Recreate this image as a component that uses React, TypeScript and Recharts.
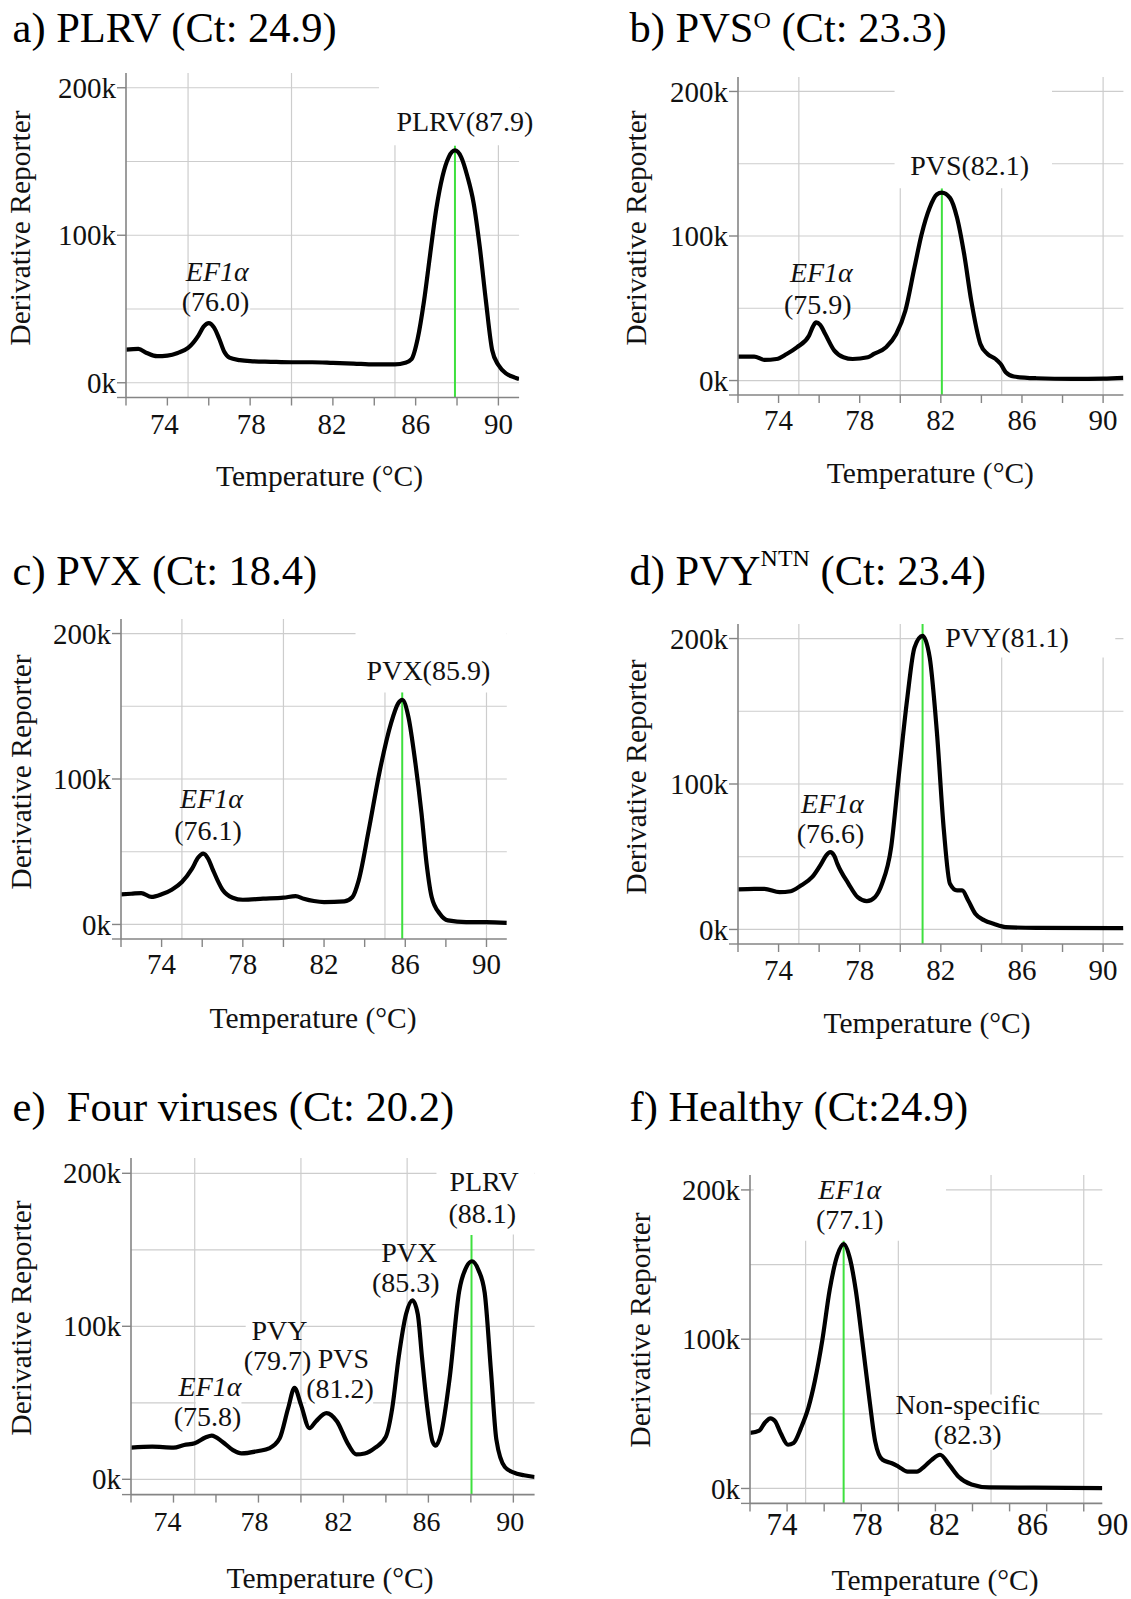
import React from 'react';
import {
  LineChart,
  Line,
  XAxis,
  YAxis,
  CartesianGrid,
  ReferenceLine,
  ReferenceArea,
  ReferenceDot,
} from 'recharts';

const FONT = '"Liberation Serif", "Times New Roman", serif';

// shared axis setup
const ticksX = [72, 74, 76, 78, 80, 82, 84, 86, 88, 90];
const labeledX = [74, 78, 82, 86, 90];
const ticksY = [-10000, 0, 100000, 200000];
const gridY = [0, 50000, 100000, 150000, 200000];
const gridX = [75, 80, 85, 90];

// melt curves, derivative reporter in thousands
const tempA = [72, 72.6, 73, 73.5, 74, 74.5, 75, 75.5, 75.75, 76, 76.25, 76.5, 76.75, 77, 77.5, 78, 79, 80, 81, 82, 83, 84, 85, 85.5, 85.8, 86.1, 86.4, 86.7, 87, 87.3, 87.6, 87.9, 88.2, 88.5, 88.8, 89.1, 89.4, 89.7, 90, 90.4, 90.8, 91];
const valA = [22.5, 22.9, 20.2, 18, 18.4, 20.2, 23.6, 32, 38, 40.4, 37.5, 30, 21, 17, 15.3, 14.6, 14.2, 13.9, 13.9, 13.5, 13, 12.4, 12.4, 13.5, 16, 30, 55, 87, 118, 140, 153, 157.5, 153, 140, 122, 92, 55, 22, 12, 6, 3.5, 2.5];

const tempB = [72, 72.8, 73.3, 73.9, 74.4, 74.9, 75.5, 75.7, 75.85, 76.05, 76.3, 76.75, 77.2, 77.65, 78.4, 78.7, 79.3, 79.8, 80.25, 80.7, 81.05, 81.45, 81.8, 82.05, 82.45, 82.8, 83.15, 83.5, 83.95, 84.3, 84.7, 84.95, 85.2, 85.6, 86.7, 88.5, 90, 91];
const valB = [16.6, 16.6, 14.3, 14.9, 18.4, 23, 31, 37.5, 40.2, 38.5, 32.2, 20.7, 16.1, 14.9, 16.1, 18.4, 23, 32.2, 48.3, 78.2, 101, 119.5, 128.7, 130, 126.4, 112.6, 87.4, 55.2, 25.3, 18.4, 14.9, 11.5, 5.7, 2.8, 1.6, 1.1, 1.3, 1.8];

const tempC = [72, 72.5, 73, 73.5, 74, 74.5, 75, 75.5, 75.8, 76.05, 76.3, 76.5, 77, 77.5, 78, 79, 80, 80.6, 81, 81.5, 82, 83, 83.4, 83.7, 84.2, 84.75, 85.3, 85.65, 85.85, 86.15, 86.5, 86.8, 87.05, 87.3, 87.7, 88.1, 89, 90, 91];
const valC = [20.7, 21.1, 21.6, 18.9, 20.7, 23.9, 29.2, 38.4, 46, 48.7, 45, 38.4, 23.9, 18.4, 17, 17.7, 18.4, 19.5, 17.7, 16.1, 15.4, 15.9, 18.9, 30, 64.8, 106, 138.4, 152, 154.5, 143, 110.8, 76.3, 41.8, 18.9, 7.4, 2.8, 1.6, 1.6, 1.1];

const tempD = [72, 72.8, 73.3, 74.05, 74.6, 75.1, 75.65, 76.1, 76.35, 76.55, 76.75, 76.9, 77.45, 77.9, 78.35, 78.75, 79.1, 79.55, 79.9, 80.35, 80.7, 81.1, 81.45, 81.8, 82.15, 82.45, 82.8, 83.05, 83.35, 83.7, 84.15, 84.6, 85.2, 86.7, 91];
const valD = [27.5, 27.9, 27.9, 25.6, 26.3, 30.2, 35.9, 45.1, 51, 53.1, 50.5, 45.1, 31.4, 22.2, 19.5, 22.2, 31.4, 56.5, 102.3, 159.5, 193.8, 201.8, 187, 136.6, 68, 31.4, 26.8, 26.8, 19.9, 10.8, 6.2, 3.9, 1.6, 1.1, 0.9];

const tempE = [72, 73, 74, 74.5, 75, 75.5, 75.8, 76.3, 76.8, 77.2, 78, 78.5, 79, 79.4, 79.7, 80, 80.4, 80.7, 81.2, 81.7, 82.2, 82.6, 83, 83.5, 84, 84.3, 84.6, 84.95, 85.25, 85.5, 85.7, 85.95, 86.2, 86.35, 86.6, 87, 87.45, 87.8, 88.05, 88.35, 88.65, 88.95, 89.2, 89.6, 90, 90.5, 91];
const valE = [20.7, 21.3, 20.7, 22.4, 23.5, 27.3, 28.6, 24.6, 19.1, 16.9, 18.5, 20.2, 26.8, 46.6, 59.8, 48.8, 33.4, 37.8, 43.3, 37.8, 23.5, 16.3, 16.9, 20.7, 27.9, 46.6, 79.6, 108, 117, 108, 79.6, 46.6, 24.6, 22, 30, 66, 123, 139, 142.5, 137, 122, 70, 26, 8, 4.5, 2.6, 1.5];

const tempF = [72, 72.5, 72.8, 73.1, 73.35, 73.65, 74.05, 74.35, 74.75, 75.15, 75.5, 75.9, 76.3, 76.7, 77.05, 77.4, 77.7, 78.05, 78.45, 78.75, 79.15, 79.65, 80, 80.5, 81, 81.4, 81.8, 82.25, 82.75, 83.25, 83.95, 84.9, 87.3, 91];
const valF = [37.2, 38.8, 44, 47, 45.1, 37.2, 29.3, 30.5, 40.6, 54.2, 72.2, 99.3, 133.2, 155.8, 163.7, 153.5, 133.2, 99.3, 58.7, 31.6, 19.2, 16.9, 14.7, 11.3, 11.3, 14.7, 19.2, 22.6, 15.8, 7.9, 2.7, 0.7, 0.5, 0.2];

interface Note {
  t: number;
  v: number;
  text: string;
  italic?: boolean;
}

interface PanelDef {
  temps: number[];
  values: number[];
  plot: { left: number; right: number; top: number; bottom: number };
  peak: number;
  peakTop: number;
  notes: Note[];
  masks: number[][];
  shifts: number[];
  tickFont: number;
  tickBase: number;
}

const panels: PanelDef[] = [
  {
    temps: tempA,
    values: valA,
    plot: { left: 125.6, right: 518.7, top: 73.25, bottom: 397.75 },
    peak: 87.9,
    peakTop: 160.7,
    notes: [
      { t: 76.41, v: 75.3, text: 'EF1α', italic: true },
      { t: 76.33, v: 54.9, text: '(76.0)' },
      { t: 88.38, v: 177, text: 'PLRV(87.9)' },
    ],
    masks: [[84.23, 91, 161, 210], [75.05, 78.0, 46, 82]],
    shifts: [-3, 1, -1, 0, 0],
    tickFont: 29,
    tickBase: 37,
  },
  {
    temps: tempB,
    values: valB,
    plot: { left: 738.3, right: 1123.7, top: 76.5, bottom: 394.5 },
    peak: 82.05,
    peakTop: 132.9,
    notes: [
      { t: 76.11, v: 74.8, text: 'EF1α', italic: true },
      { t: 75.93, v: 52.6, text: '(75.9)' },
      { t: 83.42, v: 148.8, text: 'PVS(82.1)' },
    ],
    masks: [[79.72, 87.48, 133, 210], [75.05, 77.55, 45, 82]],
    shifts: [0, 0, 0, 0, 0],
    tickFont: 29,
    tickBase: 35,
  },
  {
    temps: tempC,
    values: valC,
    plot: { left: 121, right: 506.8, top: 618.5, bottom: 938.5 },
    peak: 85.85,
    peakTop: 159.5,
    notes: [
      { t: 76.46, v: 86.6, text: 'EF1α', italic: true },
      { t: 76.29, v: 64.6, text: '(76.1)' },
      { t: 87.14, v: 174.6, text: 'PVX(85.9)' },
    ],
    masks: [[83.55, 91, 159.5, 210], [75.05, 77.9, 56, 93]],
    shifts: [0, 0, 0, 0, 0],
    tickFont: 29,
    tickBase: 35,
  },
  {
    temps: tempD,
    values: valD,
    plot: { left: 738.3, right: 1123.7, top: 623.5, bottom: 943.5 },
    peak: 81.1,
    peakTop: 210,
    notes: [
      { t: 76.65, v: 86.6, text: 'EF1α', italic: true },
      { t: 76.56, v: 66, text: '(76.6)' },
      { t: 85.26, v: 200.7, text: 'PVY(81.1)' },
    ],
    masks: [[81.25, 90.6, 187, 210], [75.05, 78.19, 58, 93]],
    shifts: [0, 0, 0, 0, 0],
    tickFont: 29,
    tickBase: 36,
  },
  {
    temps: tempE,
    values: valE,
    plot: { left: 131.4, right: 535, top: 1157.6, bottom: 1494.2 },
    peak: 88.03,
    peakTop: 159.6,
    notes: [
      { t: 75.72, v: 60.3, text: 'EF1α', italic: true },
      { t: 75.6, v: 41, text: '(75.8)' },
      { t: 78.99, v: 97.4, text: 'PVY' },
      { t: 78.9, v: 77.5, text: '(79.7)' },
      { t: 82.0, v: 78.8, text: 'PVS' },
      { t: 81.84, v: 58.9, text: '(81.2)' },
      { t: 85.1, v: 148.3, text: 'PVX' },
      { t: 84.94, v: 128.5, text: '(85.3)' },
      { t: 88.62, v: 194.7, text: 'PLRV' },
      { t: 88.54, v: 173.5, text: '(88.1)' },
    ],
    masks: [[86.38, 91, 160, 210], [77.4, 79.95, 68, 105], [80.25, 83.4, 49, 87], [75.05, 77.2, 31, 69]],
    shifts: [-6, -4, -5, -2, -3],
    tickFont: 28,
    tickBase: 36.5,
  },
  {
    temps: tempF,
    values: valF,
    plot: { left: 750, right: 1102.3, top: 1174.9, bottom: 1503.3 },
    peak: 77.05,
    peakTop: 166,
    notes: [
      { t: 77.38, v: 200, text: 'EF1α', italic: true },
      { t: 77.38, v: 179.7, text: '(77.1)' },
      { t: 83.74, v: 56.3, text: 'Non-specific' },
      { t: 83.74, v: 35.9, text: '(82.3)' },
    ],
    masks: [[72.2, 82.57, 166, 210], [80.05, 87.46, 26, 63]],
    // tick labels in this panel sit off their ticks
    shifts: [-5, 6, 9, 23, 29],
    tickFont: 31,
    tickBase: 32,
  },
];

const yLabels = [
  [23, 228], [638.7, 228], [23.3, 772], [638.7, 777], [23.3, 1318], [642.4, 1330],
];
const xLabels = [
  [319.5, 486], [930.4, 483], [313, 1028], [927, 1033], [330, 1588], [935, 1590],
];

const AXIS = '#858585';

const Panel: React.FC<{ p: PanelDef }> = ({ p }) => {
  const data = p.temps.map((t, i) => ({ t, v: p.values[i] * 1000 }));
  const w = p.plot.right - p.plot.left;
  const h = p.plot.bottom - p.plot.top;

  // y handed to the tick is axis + tickSize (8)
  const XTick = (props: any) => {
    const { x, y, payload } = props;
    const i = labeledX.indexOf(payload.value);
    if (i < 0) return <g />;
    return (
      <text
        x={x + p.shifts[i]}
        y={y + p.tickBase - 8}
        textAnchor="middle"
        fontSize={p.tickFont}
        fontFamily={FONT}
        fill="#111"
      >
        {payload.value}
      </text>
    );
  };

  const YTick = (props: any) => {
    const { x, y, payload } = props;
    if (payload.value < 0) return <g />;
    return (
      <text x={x} y={y} dy="0.35em" textAnchor="end" fontSize={29} fontFamily={FONT} fill="#111">
        {`${payload.value / 1000}k`}
      </text>
    );
  };

  return (
    <div style={{ position: 'absolute', left: p.plot.left - 110, top: p.plot.top - 10 }}>
      <LineChart
        width={w + 150}
        height={h + 70}
        data={data}
        margin={{ top: 10, right: 40, bottom: 0, left: 0 }}
      >
        <CartesianGrid
          stroke="#cdcdcd"
          strokeWidth={1.2}
          horizontalValues={gridY}
          verticalValues={gridX}
        />
        {p.masks.map((m, i) => (
          <ReferenceArea
            key={i}
            x1={m[0]}
            x2={m[1]}
            y1={m[2] * 1000}
            y2={m[3] * 1000}
            fill="#ffffff"
            fillOpacity={1}
            stroke="none"
          />
        ))}
        <ReferenceLine
          segment={[
            { x: p.peak, y: -10000 },
            { x: p.peak, y: p.peakTop * 1000 },
          ]}
          stroke="#3ee03e"
          strokeWidth={2}
        />
        <XAxis
          dataKey="t"
          type="number"
          domain={[72, 91]}
          allowDataOverflow
          ticks={ticksX}
          interval={0}
          tickSize={8}
          tickMargin={0}
          tick={XTick}
          height={60}
          axisLine={{ stroke: AXIS, strokeWidth: 1.6 }}
          tickLine={{ stroke: AXIS, strokeWidth: 1.4 }}
        />
        <YAxis
          type="number"
          domain={[-10000, 210000]}
          allowDataOverflow
          ticks={ticksY}
          interval={0}
          tickSize={9}
          tickMargin={1}
          tick={YTick}
          width={110}
          axisLine={{ stroke: AXIS, strokeWidth: 1.6 }}
          tickLine={{ stroke: AXIS, strokeWidth: 1.4 }}
        />
        <Line
          type="monotone"
          dataKey="v"
          stroke="#000"
          strokeWidth={4.2}
          dot={false}
          isAnimationActive={false}
        />
        {p.notes.map((n, i) => (
          <ReferenceDot
            key={`n${i}`}
            x={n.t}
            y={n.v * 1000}
            r={0}
            shape={(s: any) => (
              <text
                x={s.cx}
                y={s.cy}
                dy="0.33em"
                textAnchor="middle"
                fontSize={28}
                fontFamily={FONT}
                fontStyle={n.italic ? 'italic' : 'normal'}
                fill="#111"
              >
                {n.text}
              </text>
            )}
          />
        ))}
      </LineChart>
    </div>
  );
};

const titleStyle = { fontFamily: FONT, fontSize: 42.5, fill: '#000', whiteSpace: 'pre' as const };

export default function App() {
  return (
    <div
      style={{
        position: 'absolute',
        left: 0,
        top: 0,
        width: 1131,
        height: 1599,
        background: '#fff',
        overflow: 'hidden',
      }}
    >
      {panels.map((p, i) => (
        <Panel key={i} p={p} />
      ))}
      <svg
        width={1131}
        height={1599}
        style={{ position: 'absolute', left: 0, top: 0, pointerEvents: 'none' }}
      >
        <text x={12.6} y={42} style={titleStyle}>a) PLRV (Ct: 24.9)</text>
        <text x={629.5} y={42} style={titleStyle}>
          b) PVS<tspan fontSize={24} dy={-14}>O</tspan>
          <tspan dy={14}> (Ct: 23.3)</tspan>
        </text>
        <text x={12.6} y={585} style={titleStyle}>c) PVX (Ct: 18.4)</text>
        <text x={629.5} y={585} style={titleStyle}>
          d) PVY<tspan fontSize={24} dy={-19}>NTN</tspan>
          <tspan dy={19}> (Ct: 23.4)</tspan>
        </text>
        <text x={12.6} y={1121} style={titleStyle}>e)  Four viruses (Ct: 20.2)</text>
        <text x={629.5} y={1121} style={titleStyle}>f) Healthy (Ct:24.9)</text>

        {yLabels.map(([cx, cy], i) => (
          <text
            key={`y${i}`}
            transform={`translate(${cx},${cy}) rotate(-90)`}
            dy="0.25em"
            textAnchor="middle"
            fontSize={29.5}
            fontFamily={FONT}
            fill="#111"
          >
            Derivative Reporter
          </text>
        ))}
        {xLabels.map(([cx, by], i) => (
          <text key={`x${i}`} x={cx} y={by} textAnchor="middle" fontSize={29.5} fontFamily={FONT} fill="#111">
            Temperature (°C)
          </text>
        ))}
      </svg>
    </div>
  );
}
